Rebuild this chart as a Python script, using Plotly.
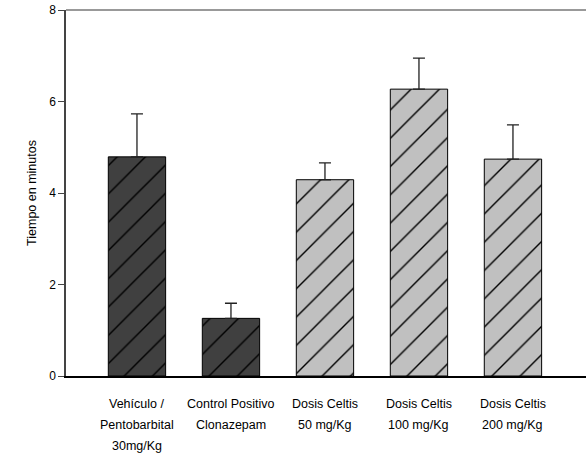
import plotly.graph_objects as go

categories = ["Vehículo /<br>Pentobarbital<br>30mg/Kg",
              "Control Positivo<br>Clonazepam",
              "Dosis Celtis<br>50 mg/Kg",
              "Dosis Celtis<br>100 mg/Kg",
              "Dosis Celtis<br>200 mg/Kg"]
values = [4.79, 1.26, 4.29, 6.27, 4.74]
errors = [0.94, 0.33, 0.37, 0.68, 0.75]
groups = ["control", "control", "celtis", "celtis", "celtis"]
group_colors = {"control": "#404040", "celtis": "#c0c0c0"}
y_ticks = [0, 2, 4, 6, 8]

FONT = "Liberation Sans, Arial"
xs = list(range(len(categories)))

fig = go.Figure()
for g, col in group_colors.items():
    idx = [i for i in xs if groups[i] == g]
    fig.add_trace(go.Bar(
        x=[xs[i] for i in idx], y=[values[i] for i in idx], width=0.61,
        marker=dict(color=col, line=dict(color="black", width=1),
                    pattern=dict(shape="/", fgcolor="black", bgcolor=col,
                                 fgopacity=1, size=20, solidity=0.07,
                                 fillmode="replace")),
        error_y=dict(type="data", symmetric=False, array=[errors[i] for i in idx],
                     arrayminus=[0] * len(idx), color="#222", thickness=1.3, width=6),
        showlegend=False,
    ))

annotations = []
for i, cat in enumerate(categories):
    for j, line in enumerate(cat.split("<br>")):
        annotations.append(dict(
            x=i, y=0, xref="x", yref="paper", text=line, showarrow=False,
            xanchor="center", yanchor="middle", yshift=-28 - 21 * j,
            font=dict(family=FONT, size=12.5, color="black")))

fig.add_shape(type="line", xref="paper", yref="paper", x0=0, x1=1, y0=1, y1=1,
              line=dict(color="#777", width=1.5))

fig.update_layout(
    width=586, height=457,
    barmode="overlay",
    margin=dict(l=66, r=0, t=10, b=81),
    plot_bgcolor="white", paper_bgcolor="white",
    font=dict(family=FONT, size=12, color="black"),
    annotations=annotations,
    xaxis=dict(range=[-0.755, 4.777], tickvals=xs, ticktext=[""] * len(xs),
               showgrid=False, zeroline=False, showline=True, linecolor="black",
               linewidth=1.5, ticks=""),
    yaxis=dict(range=[0, 8], tickvals=y_ticks, showgrid=False, zeroline=False,
               showline=True, linecolor="#444", linewidth=1.5, ticks="outside",
               ticklen=6, tickcolor="#444",
               title=dict(text="Tiempo en minutos", standoff=10,
                          font=dict(family=FONT, size=12.5))),
)

fig.write_html("out.html")
